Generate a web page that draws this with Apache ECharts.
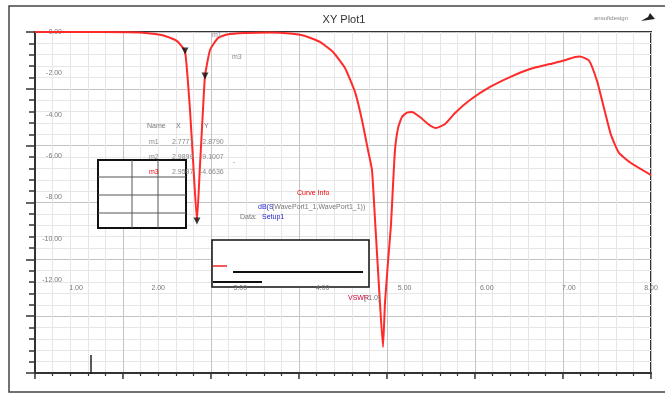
<!DOCTYPE html>
<html><head><meta charset="utf-8">
<script src="https://cdn.jsdelivr.net/npm/echarts@6/dist/echarts.min.js"></script>
<style>html,body{margin:0;padding:0;background:#fff}#c{width:665px;height:394px}</style>
</head><body><div id="c"></div>
<script>
// Frequency (GHz) and S11 (dB)
const freqGHz = [0.5,1.291,1.778,1.961,2.083,2.229,2.326,2.387,2.424,2.472,2.509,2.545,2.570,2.631,2.728,2.838,3.057,3.361,3.605,3.787,3.970,4.128,4.274,4.396,4.481,4.554,4.603,4.640,4.700,4.737,4.761,4.798,4.834,4.859,4.883,4.920,4.968,5.029,5.090,5.187,5.285,5.382,5.492,5.614,5.796,6.040,6.283,6.527,6.770,6.941,7.075,7.135,7.245,7.343,7.415,7.513,7.610,7.756,8.0];
const dbValues = [0,0,-0.02,-0.10,-0.19,-0.44,-0.92,-3.77,-6.19,-9.14,-6.44,-3.77,-2.13,-0.87,-0.29,-0.12,-0.05,-0.02,-0.07,-0.19,-0.48,-0.97,-1.74,-2.90,-4.26,-5.71,-6.68,-9.10,-13.11,-15.24,-13.11,-11.13,-9.34,-7.40,-5.71,-4.65,-4.11,-3.90,-3.87,-4.11,-4.45,-4.65,-4.45,-3.92,-3.29,-2.66,-2.18,-1.79,-1.55,-1.38,-1.21,-1.19,-1.38,-2.37,-3.48,-4.98,-5.85,-6.34,-6.92];
const markerX = [2.326, 2.472, 2.570];
const markerY = [-0.92, -9.14, -2.13];
const xTickLabels = [1,2,3,4,5,6,7,8];
const yTickLabels = [0,-2,-4,-6,-8,-10,-12];
const tableHead = ['Name','X','Y'];
const tableRows = [['m1','2.7777','-2.8790'],['m2','2.9899','-9.1007'],['m3','2.9597','-4.6636']];

const lineData = freqGHz.map((f,i)=>[f, dbValues[i]]);
const mkData = markerX.map((f,i)=>[f, markerY[i]]);
const F = '"Liberation Sans Narrow","Liberation Sans",Arial,sans-serif';
const small = '7px ' + F;

function txt(x,y,t,fill,font,align){
  return {type:'text', x:x, y:y, z:50, style:{text:t, fill:fill||'#777', font:font||small, textAlign:align||'left', align:align||'left', textVerticalAlign:'middle', verticalAlign:'middle'}};
}
function ln(x1,y1,x2,y2,c,w){
  return {type:'line', z:48, shape:{x1,y1,x2,y2}, style:{stroke:c||'#111', lineWidth:w||1.5}};
}

const g = [];
// outer frame
g.push({type:'rect', z:1, shape:{x:9,y:6,width:660,height:386}, style:{fill:'none', stroke:'#444', lineWidth:1.5}});
// title & logo
g.push(txt(344,20,'XY Plot1','#333','11px '+F,'center'));
g.push(txt(611,18,'ansoftdesign','#888','6px '+F,'center'));
g.push({type:'polygon', z:50, shape:{points:[[641,21],[655,19],[650,13],[648,17]]}, style:{fill:'#222'}});
// marker labels
g.push(txt(212,35,'m1','#888','7px '+F));
g.push(txt(232,57,'m3','#888','7px '+F));
// marker table text
const colX = [147,172,200];
tableHead.forEach((h,i)=>g.push(txt(colX[i]+(i?4:0),126,h,'#777',small)));
tableRows.forEach((r,j)=>{
  const y = [142,157,172][j];
  r.forEach((v,i)=>g.push(txt(colX[i]+(i===0?2:0),y,v,(j===2&&i===0)?'#e00':'#888',small)));
});
g.push(txt(233,162,'-','#888',small));
// table box
g.push({type:'rect', z:45, shape:{x:98,y:160,width:88,height:68}, style:{fill:'#fff', stroke:'#111', lineWidth:2}});
[132,158].forEach(x=>g.push(ln(x,160,x,228,'#555',1)));
[177,195,213].forEach(y=>g.push(ln(98,y,186,y,'#555',1)));
// curve info
g.push(txt(297,193,'Curve Info','#e00',small));
g.push(txt(258,207,'dB(S','#22c',small));
g.push(txt(272,207,'(WavePort1_1,WavePort1_1))','#777',small));
g.push(txt(240,217,'Data:','#777',small));
g.push(txt(262,217,'Setup1','#22c',small));
g.push(txt(348,298,'VSWR','#c03',small));
g.push(txt(364,298,'[-1.0]','#777',small));
// legend box
g.push({type:'rect', z:45, shape:{x:212,y:240,width:157,height:47}, style:{fill:'#fff', stroke:'#111', lineWidth:1.5}});
g.push(ln(213,266,227,266,'#e22',1.5));
g.push(ln(233,272,363,272,'#111',2));
g.push(ln(213,282,262,282,'#111',2));
// cursor line
g.push(ln(91,355,91,374,'#222',1.5));

const chart = echarts.init(document.getElementById('c'));
chart.setOption({
  animation:false,
  grid:{left:35, top:32, right:14, bottom:21, show:true, borderColor:'#333', borderWidth:2, backgroundColor:'#fff', z:0},
  xAxis:[
    {type:'value', min:0.5, max:8, position:'bottom', offset:-90, z:60,
     axisLine:{show:false}, axisTick:{show:false}, splitLine:{show:false},
     axisLabel:{customValues:xTickLabels, formatter:v=>v.toFixed(2), color:'#777', fontSize:7, fontFamily:F, margin:2}},
    {type:'value', min:0, max:7, interval:1, position:'bottom',
     axisLine:{show:true, lineStyle:{color:'#333', width:2}},
     axisTick:{show:true, inside:false, length:6, lineStyle:{color:'#333', width:1.5}},
     minorTick:{show:true, splitNumber:5, length:3, lineStyle:{color:'#333', width:1.2}},
     splitLine:{show:true, lineStyle:{color:'#c4c4c4', width:1}},
     minorSplitLine:{show:true, lineStyle:{color:'#e6e6e6', width:1}},
     axisLabel:{show:false}}
  ],
  yAxis:[
    {type:'value', min:-16.5, max:0, position:'left', offset:-29,
     axisLine:{show:false}, axisTick:{show:false}, splitLine:{show:false},
     axisLabel:{customValues:yTickLabels, formatter:v=>v.toFixed(2), color:'#777', fontSize:7, fontFamily:F, margin:2, padding:[0,0,6,0]}},
    {type:'value', min:0, max:6, interval:1, position:'left',
     axisLine:{show:true, lineStyle:{color:'#333', width:2}},
     axisTick:{show:true, length:9, lineStyle:{color:'#333', width:1.5}},
     minorTick:{show:true, splitNumber:5, length:6, lineStyle:{color:'#333', width:1.5}},
     splitLine:{show:true, lineStyle:{color:'#c4c4c4', width:1}},
     minorSplitLine:{show:true, lineStyle:{color:'#e6e6e6', width:1}},
     axisLabel:{show:false}}
  ],
  series:[
    {type:'line', xAxisIndex:0, yAxisIndex:0, data:lineData, showSymbol:false, smooth:0.15, z:10,
     lineStyle:{color:'#ff2a2a', width:2}},
    {type:'scatter', xAxisIndex:0, yAxisIndex:0, data:mkData, symbol:'triangle', symbolRotate:180, symbolSize:7, z:12,
     itemStyle:{color:'#111'}}
  ],
  graphic:g
});
</script></body></html>
